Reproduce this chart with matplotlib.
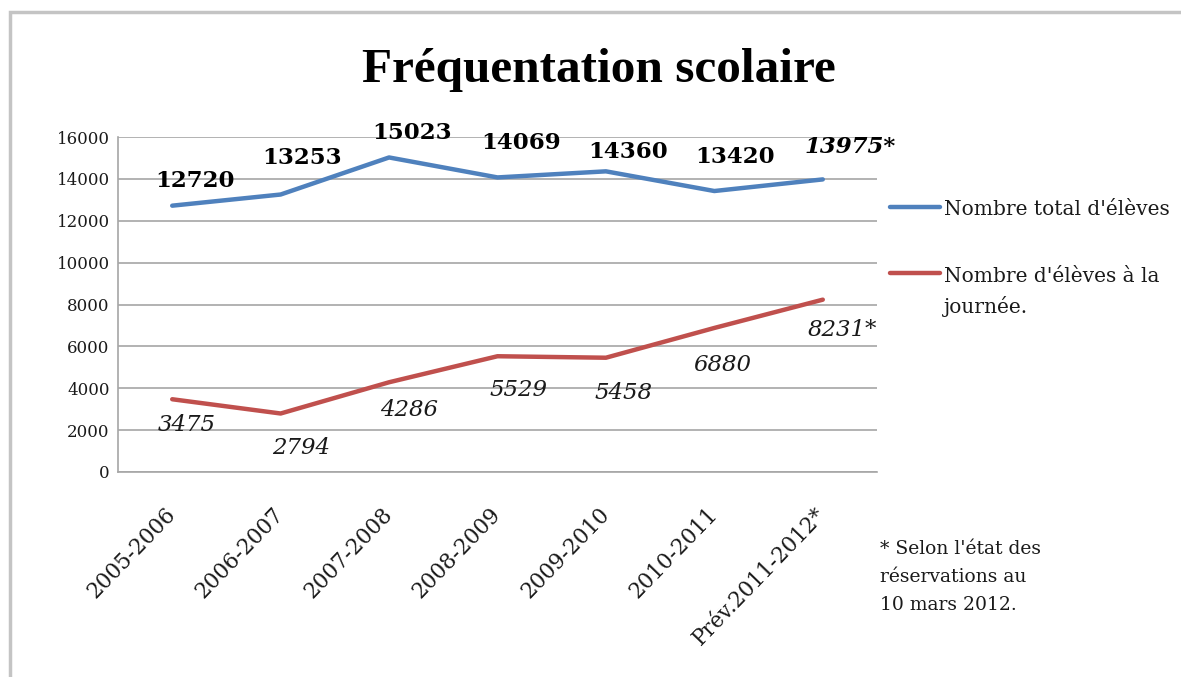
import matplotlib
matplotlib.use("Agg")
import matplotlib.pyplot as plt
from matplotlib.patches import Rectangle
from matplotlib.lines import Line2D

categories = ["2005-2006", "2006-2007", "2007-2008", "2008-2009",
              "2009-2010", "2010-2011", "Prév.2011-2012*"]
total_eleves = [12720, 13253, 15023, 14069, 14360, 13420, 13975]
journee_eleves = [3475, 2794, 4286, 5529, 5458, 6880, 8231]
total_labels = ["12720", "13253", "15023", "14069", "14360", "13420", "13975*"]
journee_labels = ["3475", "2794", "4286", "5529", "5458", "6880", "8231*"]
yticks = [0, 2000, 4000, 6000, 8000, 10000, 12000, 14000, 16000]
series_names = ["Nombre total d'élèves", "Nombre d'élèves à la\njournée."]
footnote = "* Selon l'état des\nréservations au\n10 mars 2012."
title = "Fréquentation scolaire"

# label offsets in pixels (dx, dy)
total_off = [(23, 25), (21, 37), (23, 24), (24, 34), (22, 19), (21, 34), (27, 32)]
journee_off = [(15, -26), (20, -34), (20, -28), (21, -34), (18, -35), (8, -37), (20, -30)]

BLUE = "#4F81BD"
RED = "#C0504D"
GRID = "#A6A6A6"
TXT = "#1a1a1a"

plt.rcParams['font.family'] = ['DejaVu Serif']

fig = plt.figure(figsize=(11.81, 6.77), dpi=100)
fig.patch.set_facecolor("white")

# outer frame (cropped at right/bottom)
fig.patches.append(Rectangle((10 / 1181, -0.05), 1.1, 1 - 12 / 677 + 0.05,
                             transform=fig.transFigure, fill=False,
                             edgecolor="#C4C4C4", linewidth=2.5))

ax = fig.add_axes([118 / 1181, 1 - 472 / 677, (877 - 118) / 1181, (472 - 137) / 677])
x = list(range(len(categories)))
l1, = ax.plot(x, total_eleves, color=BLUE, linewidth=3.2, solid_capstyle="round")
l2, = ax.plot(x, journee_eleves, color=RED, linewidth=3.2, solid_capstyle="round")

ax.set_xlim(-0.5, len(categories) - 0.5)
ax.set_ylim(0, 16000)
ax.set_yticks(yticks)
ax.set_yticklabels([str(v) for v in yticks], fontsize=12, color=TXT)
ax.set_xticks(x)
ax.set_xticklabels(categories, rotation=46, ha="right", va="center",
                   rotation_mode="anchor", fontsize=15.5, color=TXT)
ax.tick_params(axis="both", length=0)
ax.tick_params(axis="y", pad=6)
ax.tick_params(axis="x", pad=28)
ax.grid(axis="y", color=GRID, linewidth=1.2)
ax.set_axisbelow(True)
for s in ["top", "right"]:
    ax.spines[s].set_visible(False)
for s in ["left", "bottom"]:
    ax.spines[s].set_color(GRID)
    ax.spines[s].set_linewidth(1.2)

for i, (v, lab) in enumerate(zip(total_eleves, total_labels)):
    style = "italic" if lab.endswith("*") else "normal"
    ax.annotate(lab, (i, v), xytext=total_off[i], textcoords="offset pixels",
                ha="center", va="center", fontsize=16.5, fontweight="bold",
                fontstyle=style, color="black")
for i, (v, lab) in enumerate(zip(journee_eleves, journee_labels)):
    ax.annotate(lab, (i, v), xytext=journee_off[i], textcoords="offset pixels",
                ha="center", va="center", fontsize=16.5, fontstyle="italic",
                color=TXT)

fig.text(599 / 1181, 1 - 70 / 677, title, ha="center",
         va="center", fontsize=35.5, fontweight="bold",
         family=["Liberation Serif", "DejaVu Serif"])

# legend (handle aligned with the first line of each label)
leg_rows = [(l1, 207), (l2, 273)]
for (line, ypix), name in zip(leg_rows, series_names):
    yf = 1 - ypix / 677
    fig.add_artist(Line2D([890 / 1181, 940 / 1181], [yf, yf], transform=fig.transFigure,
                          color=line.get_color(), linewidth=3.2, solid_capstyle="round"))
    nlines = name.count("\n") + 1
    base = ypix + 8 + 32 * (nlines - 1)
    fig.text(944 / 1181, 1 - base / 677, name, ha="left", va="baseline",
             fontsize=14.5, color=TXT, linespacing=1.6)

fig.text(880 / 1181, 1 - 540 / 677, footnote,
         ha="left", va="top", fontsize=13.5, linespacing=1.72, color=TXT)

fig.savefig("out.png", dpi=100)
